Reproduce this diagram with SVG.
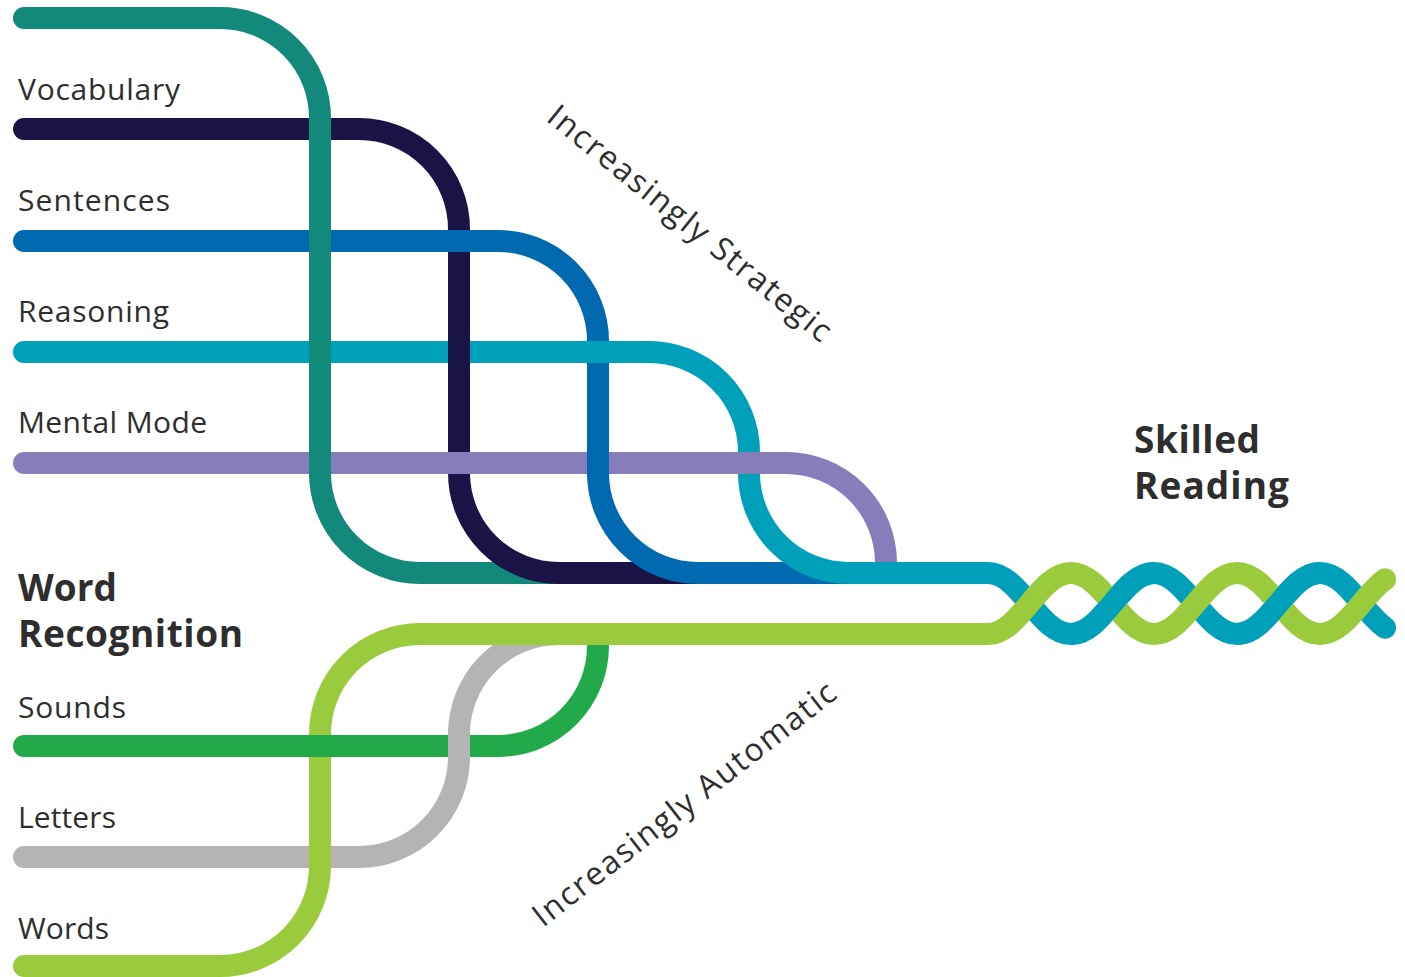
<svg xmlns="http://www.w3.org/2000/svg" width="1405" height="977" viewBox="0 0 1405 977">
  <style>
    .s { fill: none; stroke-width: 22; stroke-linecap: round; }
    .p { fill: none; stroke-width: 22; stroke-linecap: butt; }
    .teal { stroke: #12897B; }
    .navy { stroke: #1A1446; }
    .blue { stroke: #0069AF; }
    .cyan { stroke: #00A0BB; }
    .purple { stroke: #877DBA; }
    .lime { stroke: #9ACB3C; }
    .green { stroke: #22AA4A; }
    .gray { stroke: #B4B4B4; }
    .lbl { font-family: "Open Sans", "Liberation Sans", sans-serif; font-size: 30px; fill: #2e2e2e; }
    .hd { font-weight: 700; font-size: 37px; }
    .diag { font-size: 32px; }
  </style>

  <rect width="1405" height="977" fill="#ffffff"/>

  <!-- strands of the rope -->
  <g id="connectors">
    <!-- language comprehension strands -->
    <path id="strand-background" class="s teal" d="M24,18 H220 A100,100 0 0 1 320,118 V473 A100,100 0 0 0 420,573 H900"/>
    <path id="strand-vocabulary" class="s navy" d="M24,129 H359 A100,100 0 0 1 459,229 V473 A100,100 0 0 0 559,573 H900"/>
    <path id="strand-sentences" class="s blue" d="M24,241 H498 A100,100 0 0 1 598,341 V473 A100,100 0 0 0 698,573 H900"/>
    <path id="strand-reasoning" class="s cyan" d="M24,352 H649 A100,100 0 0 1 749,452 V473 A100,100 0 0 0 849,573 H988 C1020,573 1039,634 1071,634 C1103,634 1122,573 1154,573 C1186,573 1205,634 1237,634 C1269,634 1288,573 1320,573 C1345.6,573 1362.9,612 1385.1,627.7"/>
    <path id="strand-mental" class="s purple" d="M24,463 H786 A100,100 0 0 1 886,563"/>

    <!-- over-crossings in the upper weave -->
    <path class="p teal" d="M320,118 V474"/>
    <path class="p navy" d="M459,334 V370"/>
    <path class="p blue" d="M598,444 V476"/>
    <path class="p cyan" d="M850,573 H930"/>

    <!-- word recognition strands -->
    <path id="strand-letters" class="s gray" d="M24,857 H359 A100,100 0 0 0 459,757 V734 A100,100 0 0 1 559,634 H700"/>
    <path id="strand-words" class="s lime" d="M24,966 H220 A100,100 0 0 0 320,866 V734 A100,100 0 0 1 420,634 H988 C1020,634 1039,573 1071,573 C1103,573 1122,634 1154,634 C1186,634 1205,573 1237,573 C1269,573 1288,634 1320,634 C1345.6,634 1362.9,595 1385.1,579.3"/>
    <path id="strand-sounds" class="s green" d="M24,746 H498 A100,100 0 0 0 598,646"/>

    <!-- over-crossings in the lower weave -->
    <path class="p gray" d="M459,761 V730"/>
    <path class="p lime" d="M430,634 H980"/>

    <!-- twisted section -->
    <path class="p cyan" d="M1071,634 C1103,634 1122,573 1154,573"/>
    <path class="p cyan" d="M1237,634 C1269,634 1288,573 1320,573"/>
  </g>

  <!-- labels -->
  <g id="label-vocabulary"><text class="lbl" x="18" y="100" textLength="162">Vocabulary</text></g>
  <g id="label-sentences"><text class="lbl" x="18" y="211" textLength="152">Sentences</text></g>
  <g id="label-reasoning"><text class="lbl" x="18" y="322" textLength="151">Reasoning</text></g>
  <g id="label-mental"><text class="lbl" x="18" y="433" textLength="189">Mental Mode</text></g>
  <g id="label-word-recognition">
    <text class="lbl hd" x="18" y="601" textLength="99">Word</text>
    <text class="lbl hd" x="18" y="647" textLength="225">Recognition</text>
  </g>
  <g id="label-sounds"><text class="lbl" x="18" y="718" textLength="108">Sounds</text></g>
  <g id="label-letters"><text class="lbl" x="18" y="828" textLength="98">Letters</text></g>
  <g id="label-words"><text class="lbl" x="18" y="939" textLength="91">Words</text></g>
  <g id="label-skilled-reading">
    <text class="lbl hd" x="1134" y="453" textLength="126">Skilled</text>
    <text class="lbl hd" x="1134" y="499" textLength="155">Reading</text>
  </g>
  <g id="label-strategic"><text class="lbl diag" transform="translate(545,120) rotate(39)" textLength="355">Increasingly Strategic</text></g>
  <g id="label-automatic"><text class="lbl diag" transform="translate(543,928) rotate(-38)" textLength="375">Increasingly Automatic</text></g>
</svg>
